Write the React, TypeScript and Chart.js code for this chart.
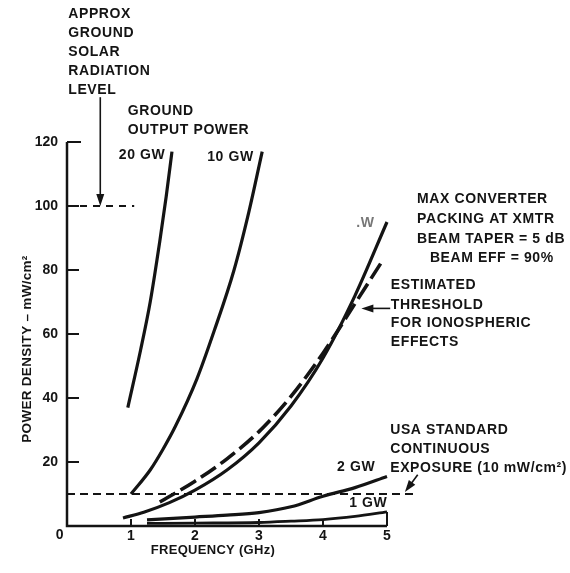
import { useEffect, useRef } from 'react';
import { Chart, registerables } from 'chart.js';

Chart.register(...registerables);

// ---- data ----
const xTicks = [0, 1, 2, 3, 4, 5];
const yTicks = [0, 20, 40, 60, 80, 100, 120];

const freq20 = [0.95, 1.15, 1.3, 1.45, 1.55, 1.64];
const pd20 = [37, 55, 70, 89, 103, 117];

const freq10 = [1.0, 1.3, 1.5, 1.69, 2.03, 2.3, 2.61, 2.84, 3.05];
const pd10 = [10, 17.5, 24, 31, 46, 61, 80, 98, 117];

const freq5 = [0.875, 1.2, 1.6, 2.0, 2.5, 3.0, 3.5, 4.0, 4.5, 5.0];
const pd5 = [2.5, 4.3, 7.3, 11.2, 17.5, 26, 37.5, 52.5, 72, 95];

const freqThr = [1.45, 2.0, 2.5, 3.0, 3.5, 4.0, 4.5, 4.9];
const pdThr = [7.5, 14, 21, 29.5, 40.5, 54, 69.5, 82];

const freq2 = [1.25, 2.0, 2.5, 3.0, 3.5, 4.0, 4.5, 5.0];
const pd2 = [1.9, 2.8, 3.4, 4.2, 6.0, 9.3, 12, 15.5];

const freq1 = [1.25, 2.0, 3.0, 3.5, 4.0, 4.5, 5.0];
const pd1 = [0.8, 0.9, 1.1, 1.5, 2.0, 3.0, 4.4];

const solarFreq = [0, 1.05];
const solarLevel = 100;
const exposureFreq = [0, 5.45];
const exposureLevel = 10;

// ---- annotation placement (data units) ----
const textNotes = [
  { t: 'APPROX', x: 0.02, y: 160 },
  { t: 'GROUND', x: 0.02, y: 154.1 },
  { t: 'SOLAR', x: 0.02, y: 148.1 },
  { t: 'RADIATION', x: 0.02, y: 142.2 },
  { t: 'LEVEL', x: 0.02, y: 136.25 },
  { t: 'GROUND', x: 0.95, y: 129.7 },
  { t: 'OUTPUT POWER', x: 0.95, y: 123.75 },
  { t: '20 GW', x: 0.81, y: 115.9 },
  { t: '10 GW', x: 2.19, y: 115.3 },
  { t: '.W', x: 4.52, y: 94.7, light: true },
  { t: 'MAX CONVERTER', x: 5.47, y: 102.2 },
  { t: 'PACKING AT XMTR', x: 5.47, y: 96 },
  { t: 'BEAM TAPER = 5 dB', x: 5.47, y: 89.7 },
  { t: 'BEAM EFF = 90%', x: 5.67, y: 83.75 },
  { t: 'ESTIMATED', x: 5.06, y: 75.3 },
  { t: 'THRESHOLD', x: 5.06, y: 69.1 },
  { t: 'FOR IONOSPHERIC', x: 5.06, y: 63.4 },
  { t: 'EFFECTS', x: 5.06, y: 57.5 },
  { t: 'USA STANDARD', x: 5.05, y: 30 },
  { t: 'CONTINUOUS', x: 5.05, y: 24.06 },
  { t: 'EXPOSURE (10 mW/cm²)', x: 5.05, y: 18.1 },
  { t: '2 GW', x: 4.22, y: 18.4 },
  { t: '1 GW', x: 4.41, y: 7.2 },
];

const arrows = [
  { x1: 0.52, y1: 134, x2: 0.52, y2: 100 },
  { x1: 5.05, y1: 68, x2: 4.6, y2: 68 },
  { x1: 5.48, y1: 16, x2: 5.28, y2: 10.6 },
];

const FONT = '"Liberation Sans", Arial, sans-serif';
const INK = '#141414';

const pts = (xs: number[], ys: number[]) => xs.map((x, i) => ({ x, y: ys[i] }));

const decorPlugin = {
  id: 'decor',
  afterDatasetsDraw(chart: any) {
    const { ctx, scales } = chart;
    const sx = scales.x;
    const sy = scales.y;
    const px = (v: number) => sx.getPixelForValue(v);
    const py = (v: number) => sy.getPixelForValue(v);
    ctx.save();
    ctx.strokeStyle = INK;
    ctx.fillStyle = INK;
    ctx.lineCap = 'butt';
    // axes
    ctx.lineWidth = 2.5;
    ctx.beginPath();
    ctx.moveTo(px(0), py(120));
    ctx.lineTo(px(0), py(0));
    ctx.lineTo(px(5), py(0));
    ctx.stroke();
    // y ticks inward
    ctx.lineWidth = 2;
    yTicks.forEach((v) => {
      if (v === 0) return;
      ctx.beginPath();
      ctx.moveTo(px(0), py(v));
      ctx.lineTo(px(0) + (v === 120 ? 14 : 12), py(v));
      ctx.stroke();
    });
    // x ticks inward
    xTicks.forEach((v) => {
      if (v === 0) return;
      ctx.beginPath();
      ctx.moveTo(px(v), py(0));
      ctx.lineTo(px(v), v === 5 ? py(pd1[pd1.length - 1]) : py(0) - 7);
      ctx.stroke();
    });
    // arrows
    ctx.lineWidth = 1.6;
    arrows.forEach((a) => {
      const x1 = px(a.x1), y1 = py(a.y1), x2 = px(a.x2), y2 = py(a.y2);
      const ang = Math.atan2(y2 - y1, x2 - x1);
      const L = 12, W = 4;
      ctx.beginPath();
      ctx.moveTo(x1, y1);
      ctx.lineTo(x2 - Math.cos(ang) * L * 0.6, y2 - Math.sin(ang) * L * 0.6);
      ctx.stroke();
      ctx.beginPath();
      ctx.moveTo(x2, y2);
      ctx.lineTo(x2 - Math.cos(ang) * L - Math.sin(ang) * W, y2 - Math.sin(ang) * L + Math.cos(ang) * W);
      ctx.lineTo(x2 - Math.cos(ang) * L + Math.sin(ang) * W, y2 - Math.sin(ang) * L - Math.cos(ang) * W);
      ctx.closePath();
      ctx.fill();
    });
    // texts
    ctx.font = `bold 14px ${FONT}`;
    (ctx as any).letterSpacing = '0.6px';
    ctx.textBaseline = 'middle';
    ctx.textAlign = 'left';
    textNotes.forEach((n) => {
      ctx.fillStyle = n.light ? '#777' : INK;
      ctx.fillText(n.t, px(n.x), py(n.y));
    });
    ctx.fillStyle = INK;
    // origin label
    ctx.textAlign = 'center';
    ctx.fillText('0', px(-0.11), py(-2.8));
    // axis titles
    ctx.font = `bold 13px ${FONT}`;
    (ctx as any).letterSpacing = '0.3px';
    ctx.fillText('FREQUENCY (GHz)', px(2.28), py(-7.6));
    ctx.save();
    ctx.translate(px(-0.62), py(55.3));
    ctx.rotate(-Math.PI / 2);
    ctx.font = `bold 13.5px ${FONT}`;
    ctx.fillText('POWER DENSITY – mW/cm²', 0, 0);
    ctx.restore();
    ctx.restore();
  },
};

export default function App() {
  const ref = useRef<HTMLCanvasElement | null>(null);
  useEffect(() => {
    document.body.style.margin = '0';
    document.body.style.background = '#fff';
    if (!ref.current) return;
    const solid = (data: any) => ({
      data,
      borderColor: INK,
      borderWidth: 3.2,
      pointRadius: 0,
      fill: false,
      cubicInterpolationMode: 'monotone',
      clip: false,
    });
    const chart = new Chart(ref.current, {
      type: 'line',
      data: {
        datasets: [
          { ...solid(pts(freq20, pd20)), label: '20 GW' },
          { ...solid(pts(freq10, pd10)), label: '10 GW' },
          { ...solid(pts(freq5, pd5)), label: '5 GW' },
          { ...solid(pts(freq2, pd2)), label: '2 GW' },
          { ...solid(pts(freq1, pd1)), label: '1 GW', borderWidth: 2.8 },
          {
            ...solid(pts(freqThr, pdThr)),
            label: 'Threshold',
            borderWidth: 3.6,
            borderDash: [18, 6],
          },
          {
            ...solid(pts(solarFreq, solarFreq.map(() => solarLevel))),
            label: 'Solar',
            borderWidth: 2,
            borderDash: [7, 6],
            cubicInterpolationMode: 'default',
            tension: 0,
          },
          {
            ...solid(pts(exposureFreq, exposureFreq.map(() => exposureLevel))),
            label: 'Exposure',
            borderWidth: 2,
            borderDash: [8, 5],
            cubicInterpolationMode: 'default',
            tension: 0,
          },
        ] as any,
      },
      options: {
        animation: false,
        responsive: false,
        layout: { padding: { top: 142, right: 183, left: 0, bottom: 0 } },
        plugins: { legend: { display: false }, tooltip: { enabled: false } },
        scales: {
          x: {
            type: 'linear',
            min: 0,
            max: 5,
            afterFit: (s: any) => {
              s.height = 47;
            },
            afterBuildTicks: (s: any) => {
              s.ticks = xTicks.map((v) => ({ value: v }));
            },
            grid: { display: false, drawTicks: false },
            border: { display: false },
            ticks: {
              padding: 2,
              autoSkip: false,
              maxRotation: 0,
              color: INK,
              font: { family: FONT, size: 14, weight: 'bold' },
              callback: (v: any) => (v === 0 ? '' : String(v)),
            },
          },
          y: {
            type: 'linear',
            min: 0,
            max: 120,
            afterFit: (s: any) => {
              s.width = 67;
            },
            afterBuildTicks: (s: any) => {
              s.ticks = yTicks.map((v) => ({ value: v }));
            },
            grid: { display: false, drawTicks: false },
            border: { display: false },
            ticks: {
              padding: 9,
              autoSkip: false,
              color: INK,
              font: { family: FONT, size: 14, weight: 'bold' },
              callback: (v: any) => (v === 0 ? '' : String(v)),
            },
          },
        },
      } as any,
      plugins: [decorPlugin],
    });
    return () => chart.destroy();
  }, []);
  return (
    <div style={{ width: 570, height: 573, background: '#fff' }}>
      <canvas ref={ref} width={570} height={573} style={{ display: 'block' }} />
    </div>
  );
}
